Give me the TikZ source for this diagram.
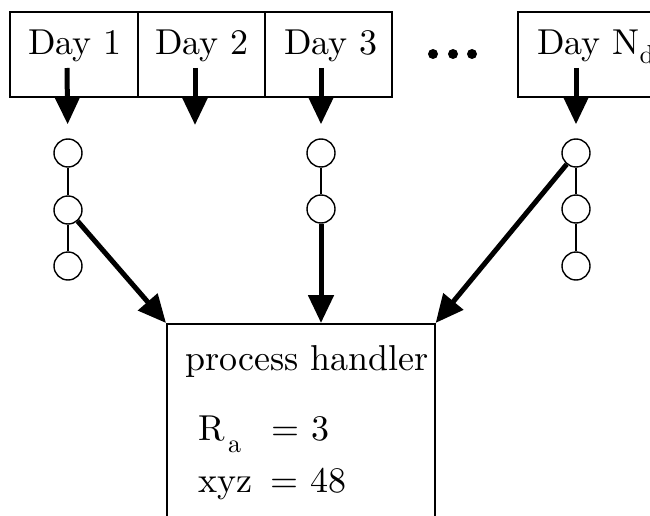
\documentclass[tikz,border=0pt]{standalone}
\usepackage{fontspec}
\setmainfont{lmroman10-regular.otf}
\usetikzlibrary{arrows.meta}
\begin{document}
\begin{tikzpicture}[x=1pt,y=-1pt,
  bigfont/.style={font=\fontsize{36}{43}\selectfont},
  daybox/.style={draw, line width=1.6pt, minimum height=85pt, inner sep=0pt},
  daylabel/.style={bigfont, anchor=base, inner sep=0pt},
  ring/.style={draw, circle, line width=1.4pt, minimum size=28pt, inner sep=0pt},
  chain/.style={line width=1.4pt},
  bigarrow/.style={line width=5pt, -{Triangle[length=28pt,width=25pt]}},
  handlerbox/.style={draw, line width=1.6pt, inner sep=0pt},
  dot/.style={fill, circle, minimum size=10pt, inner sep=0pt}]
\useasboundingbox (0,0) rectangle (650,516);
\clip (0,0) rectangle (650,516);

% day strip
\node[daybox, minimum width=128pt] (d1) at (74,54.5) {};
\node[daybox, minimum width=127pt] (d2) at (201.5,54.5) {};
\node[daybox, minimum width=127pt] (d3) at (328.5,54.5) {};
\node[daybox, minimum width=170pt] (dn) at (603,54.5) {};
\node[daylabel] (t1) at (75,55) {Day 1};
\node[daylabel] (t2) at (202,55) {Day 2};
\node[daylabel] (t3) at (331,55) {Day 3};
\node[daylabel, anchor=base west] (tn) at (537,55) {Day N\raisebox{-9pt}{\fontsize{26}{26}\selectfont d}};

% ellipsis between the boxes
\node[dot] (e1) at (433,54) {};
\node[dot] (e2) at (453,54) {};
\node[dot] (e3) at (472,54) {};

% sample chains
\node[ring] (a1) at (68,153) {};
\node[ring] (a2) at (68,210) {};
\node[ring] (a3) at (68,266) {};
\node[ring] (b1) at (321,153) {};
\node[ring] (b2) at (321,209) {};
\node[ring] (c1) at (576,153) {};
\node[ring] (c2) at (576,209) {};
\node[ring] (c3) at (576,266) {};
\draw[chain] (a1) -- (a2);
\draw[chain] (a2) -- (a3);
\draw[chain] (b1) -- (b2);
\draw[chain] (c1) -- (c2);
\draw[chain] (c2) -- (c3);

% arrows out of the days
\coordinate (s1) at (67,68);
\coordinate (s2) at (195,68);
\coordinate (s3) at (321,68);
\coordinate (sn) at (576,68);
\coordinate (f2) at (195,125);
\draw[bigarrow, shorten >=14pt] (s1) -- (a1);
\draw[bigarrow] (s2) -- (f2);
\draw[bigarrow, shorten >=14pt] (s3) -- (b1);
\draw[bigarrow, shorten >=14pt] (sn) -- (c1);

% handler
\node[handlerbox, minimum width=268pt, minimum height=230pt, anchor=north west] (hb) at (166,323) {};
\node[bigfont, anchor=base west, inner sep=0pt] (ph) at (185,370) {process handler};
\node[bigfont, anchor=base west, inner sep=0pt] (rl) at (198,440) {R};
\node[anchor=base west, inner sep=0pt, font=\fontsize{26}{26}\selectfont] (rs) at (228,452) {a};
\node[bigfont, anchor=base west, inner sep=0pt] (rv) at (271,440) {= 3};
\node[bigfont, anchor=base west, inner sep=0pt] (xl) at (198,492) {xyz};
\node[bigfont, anchor=base west, inner sep=0pt] (xv) at (270,492) {= 48};

% arrows into the handler
\draw[bigarrow] (a2) -- (hb.north west);
\draw[bigarrow] (b2) -- (hb.north west -| b2);
\draw[bigarrow] (c1) -- (hb.north east);
\end{tikzpicture}
\end{document}
